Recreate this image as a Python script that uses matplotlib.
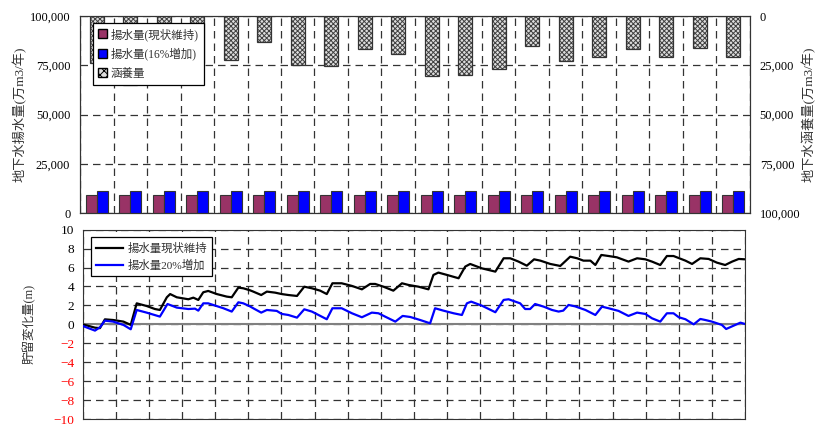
import numpy as np
import matplotlib
matplotlib.use("Agg")
import matplotlib.pyplot as plt
from matplotlib.ticker import FuncFormatter, MultipleLocator
from matplotlib.patches import Patch

plt.rcParams['font.family'] = ['Liberation Serif', 'Noto Sans CJK JP']
plt.rcParams['hatch.linewidth'] = 0.7

# ---- top chart data (20 years) ----
years = np.arange(1, 21)
pump_now = [9200] * 20            # 揚水量(現状維持)
pump_up = [11200] * 20            # 揚水量(16%増加)
recharge = [23900, 35000, 23900, 23900, 22300, 13300, 24900, 25200, 16900, 19300,
            30500, 29800, 27100, 15100, 22700, 20700, 16900, 20700, 16100, 20700]

# ---- bottom chart data: storage change (m) ----
t_now = [0.00, 0.37, 0.52, 0.67, 0.92, 1.23, 1.45, 1.63, 1.93, 2.18, 2.33, 2.54, 2.64,
         2.84, 3.19, 3.34, 3.49, 3.64, 3.79, 4.05, 4.35, 4.50, 4.70, 4.85, 5.05, 5.15,
         5.39, 5.56, 5.81, 6.01, 6.21, 6.47, 6.69, 6.92, 7.17, 7.37, 7.54, 7.82, 8.13,
         8.43, 8.68, 8.83, 9.08, 9.38, 9.64, 9.84, 10.14, 10.44, 10.59, 10.74, 11.00,
         11.35, 11.55, 11.70, 12.05, 12.46, 12.71, 12.91, 13.16, 13.41, 13.63, 13.82,
         14.12, 14.42, 14.72, 14.93, 15.12, 15.33, 15.48, 15.66, 15.88, 16.13, 16.48,
         16.74, 16.99, 17.19, 17.44, 17.64, 17.84, 18.20, 18.40, 18.65, 18.90, 19.15,
         19.40, 19.61, 19.81, 20.00]
s_now = [0.00, -0.35, -0.40, 0.53, 0.46, 0.29, -0.06, 2.22, 1.94, 1.62, 1.52, 2.86, 3.20,
         2.86, 2.65, 2.82, 2.58, 3.39, 3.53, 3.20, 2.93, 2.86, 3.88, 3.81, 3.60, 3.46,
         3.10, 3.46, 3.35, 3.20, 3.10, 3.00, 3.98, 3.81, 3.56, 3.20, 4.34, 4.34, 4.06,
         3.70, 4.27, 4.27, 3.98, 3.56, 4.34, 4.16, 3.98, 3.70, 5.22, 5.47, 5.22,
         4.87, 6.10, 6.38, 5.92, 5.57, 6.98, 6.98, 6.63, 6.20, 6.87, 6.73,
         6.38, 6.17, 7.15, 6.98, 6.73, 6.73, 6.27, 7.33, 7.22, 7.08, 6.63,
         6.98, 6.87, 6.63, 6.27, 7.22, 7.22, 6.73, 6.38, 6.98, 6.91, 6.52,
         6.27, 6.63, 6.91, 6.87]

t_up = [0.00, 0.37, 0.52, 0.67, 0.92, 1.23, 1.45, 1.63, 1.93, 2.33, 2.56, 2.84, 3.19,
        3.39, 3.49, 3.64, 3.79, 4.25, 4.50, 4.70, 4.85, 5.05, 5.15, 5.39, 5.56, 5.86,
        6.01, 6.21, 6.47, 6.69, 6.92, 7.37, 7.54, 7.82, 8.13, 8.43, 8.73, 8.93, 9.13,
        9.44, 9.66, 9.89, 10.19, 10.49, 10.64, 10.89, 11.20, 11.45, 11.60, 11.73,
        12.05, 12.46, 12.71, 12.86, 13.21, 13.36, 13.51, 13.66, 13.92, 14.17, 14.37,
        14.51, 14.67, 14.87, 15.18, 15.48, 15.68, 15.88, 16.18, 16.48, 16.74, 16.99,
        17.19, 17.44, 17.64, 17.84, 18.00, 18.20, 18.45, 18.65, 18.80, 19.00, 19.30,
        19.43, 19.66, 19.86, 20.00]
s_up = [-0.17, -0.66, -0.31, 0.39, 0.29, -0.06, -0.52, 1.52, 1.24, 0.82, 2.15, 1.77, 1.62,
        1.66, 1.45, 2.22, 2.22, 1.70, 1.35, 2.33, 2.22, 1.90, 1.70, 1.24, 1.52, 1.42,
        1.10, 0.99, 0.71, 1.59, 1.35, 0.54, 1.70, 1.70, 1.17, 0.75, 1.24, 1.17, 0.82,
        0.29, 0.89, 0.78, 0.46, 0.11, 1.70, 1.45, 1.17, 0.99, 2.22, 2.40,
        1.98, 1.28, 2.58, 2.65, 2.22, 1.62, 1.62, 2.15, 1.87, 1.52, 1.35,
        1.45, 2.05, 1.90, 1.52, 0.99, 1.87, 1.70, 1.42, 0.89, 1.24, 1.10,
        0.64, 0.29, 1.17, 1.17, 0.75, 0.54, 0.00, 0.57, 0.46, 0.29, -0.06,
        -0.49, -0.13, 0.18, 0.04]

maroon = '#993366'
blue = '#0000FF'
grid_kw = dict(color='#333333', linestyle=(0, (6, 4)), linewidth=0.9)
txt = '#333333'

fig = plt.figure(figsize=(8.19, 4.26), dpi=100)

# ================= top chart =================
ax1 = fig.add_axes([0.0977, 0.5, 0.818, 0.4624])
x = np.arange(len(years))
w = 0.33
ax1.bar(x - w / 2, pump_now, w, color=maroon, edgecolor='#333333', linewidth=0.8, zorder=3)
ax1.bar(x + w / 2, pump_up, w, color=blue, edgecolor='#333333', linewidth=0.8, zorder=3)
ax1.set_xlim(-0.5, len(years) - 0.5)
ax1.set_ylim(0, 100000)
ax1.yaxis.set_major_locator(MultipleLocator(25000))
fmt = FuncFormatter(lambda v, p: f'{int(v):,}')
ax1.yaxis.set_major_formatter(fmt)
ax1.set_xticks(np.arange(len(years) + 1) - 0.5)
ax1.tick_params(axis='x', length=0, labelbottom=False)
ax1.tick_params(axis='y', length=0, labelsize=9, pad=7)
ax1.grid(True, **grid_kw, zorder=0)
ax1.set_axisbelow(True)
ax1.set_ylabel('地下水揚水量(万m3/年)', color=txt, fontsize=9.5)
ax1.yaxis.set_label_coords(-0.079, 0.5)

ax2 = ax1.twinx()
ax2.bar(x, recharge, 0.42, color='#dddddd', edgecolor='#404040', hatch='xxxxxxx',
        linewidth=0, zorder=3)
ax2.bar(x, recharge, 0.42, color='none', edgecolor='#333333', linewidth=0.9, zorder=4)
ax2.set_ylim(100000, 0)
ax2.yaxis.set_major_locator(MultipleLocator(25000))
ax2.yaxis.set_major_formatter(fmt)
ax2.tick_params(axis='y', length=0, labelsize=9, pad=7)
ax2.set_ylabel('地下水涵養量(万m3/年)', color=txt, fontsize=9.5, rotation=90)
ax2.yaxis.set_label_coords(1.077, 0.5)
for ax in (ax1, ax2):
    for s in ax.spines.values():
        s.set_color('#333333')

handles = [Patch(facecolor=maroon, edgecolor='black'),
           Patch(facecolor=blue, edgecolor='black'),
           Patch(facecolor='#dddddd', edgecolor='black', hatch='xxxx')]
labels = ['揚水量(現状維持)', '揚水量(16%増加)', '涵養量']
leg = ax2.legend(handles, labels, loc='upper left', bbox_to_anchor=(0.019, 0.965),
                 fontsize=8.3, frameon=True, fancybox=False, edgecolor='black',
                 framealpha=1, handlelength=0.8, handleheight=0.8, handletextpad=0.3,
                 borderpad=0.45, labelspacing=0.6, borderaxespad=0)
leg.get_frame().set_linewidth(0.9)
for t in leg.get_texts():
    t.set_color(txt)
leg.set_zorder(10)

# ================= bottom chart =================
ax3 = fig.add_axes([0.101, 0.0164, 0.8087, 0.4444])
ax3.plot(t_now, s_now, color='black', linewidth=1.6, zorder=4, label='揚水量現状維持')
ax3.plot(t_up, s_up, color=blue, linewidth=1.6, zorder=4, label='揚水量20%増加')
ax3.axhline(0, color='#808080', linewidth=1.5, zorder=3)
ax3.set_xlim(0, 20)
ax3.set_ylim(-10, 10)
ax3.yaxis.set_major_locator(MultipleLocator(2))
ax3.set_xticks(np.arange(0, 21, 1))
ax3.tick_params(axis='x', length=0, labelbottom=False)
ax3.tick_params(axis='y', length=0, labelsize=9.5, pad=6)
ax3.grid(True, **grid_kw, zorder=0)
ax3.set_axisbelow(True)
ax3.set_ylabel('貯留変化量(m)', color=txt, fontsize=9)
ax3.yaxis.set_label_coords(-0.0705, 0.5)
fig.canvas.draw()
for lab in ax3.get_yticklabels():
    if lab.get_position()[1] < 0:
        lab.set_color('red')
for s in ax3.spines.values():
    s.set_color('#333333')
leg2 = ax3.legend(loc='upper left', bbox_to_anchor=(0.012, 0.96), fontsize=8.2,
                  frameon=True, fancybox=False, edgecolor='black', framealpha=1,
                  handlelength=2.4, handletextpad=0.4, borderpad=0.45,
                  labelspacing=0.5, borderaxespad=0)
leg2.get_frame().set_linewidth(0.9)
for t in leg2.get_texts():
    t.set_color(txt)

fig.savefig('out.png', dpi=100)
